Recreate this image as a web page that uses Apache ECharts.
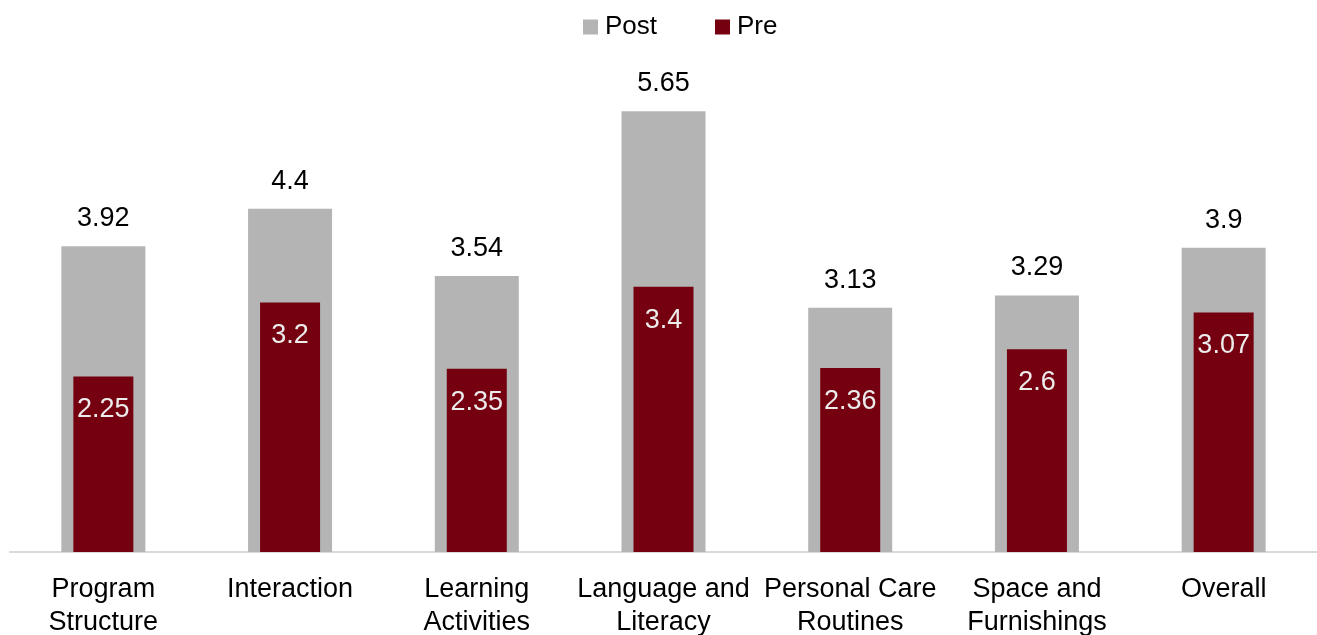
<!DOCTYPE html>
<html>
<head>
<meta charset="utf-8">
<script src="https://cdn.jsdelivr.net/npm/echarts@6/dist/echarts.min.js"></script>
<style>
  html, body { margin: 0; padding: 0; background: #fff; }
  #chart { width: 1317px; height: 635px; }
</style>
</head>
<body>
<div id="chart"></div>
<script>
const categories = ['Program\nStructure', 'Interaction', 'Learning\nActivities', 'Language and\nLiteracy', 'Personal Care\nRoutines', 'Space and\nFurnishings', 'Overall']
const postValues = [3.92, 4.4, 3.54, 5.65, 3.13, 3.29, 3.9]
const preValues = [2.25, 3.2, 2.35, 3.4, 2.36, 2.6, 3.07]

const font = 'Liberation Sans, Arial, sans-serif'
const chart = echarts.init(document.getElementById('chart'))

chart.setOption({
  animation: false,
  legend: {
    top: 9,
    left: 578,
    itemWidth: 15,
    itemHeight: 15,
    itemGap: 58,
    icon: 'rect',
    textStyle: { fontFamily: font, fontSize: 26, color: '#000', padding: [0, 0, 0, 2] },
    data: ['Post', 'Pre']
  },
  grid: { left: 10, right: 0, top: 84, bottom: 83, outerBoundsMode: 'none', containLabel: false },
  xAxis: [
    {
      type: 'category',
      data: categories,
      axisTick: { show: false },
      axisLine: { lineStyle: { color: '#d9d9d9', width: 2 } },
      axisLabel: {
        interval: 0,
        margin: 21,
        fontFamily: font,
        fontSize: 27,
        lineHeight: 33,
        color: '#000'
      }
    },
    {
      type: 'category',
      data: categories,
      show: false
    }
  ],
  yAxis: { type: 'value', min: 0, max: 6, show: false },
  series: [
    {
      name: 'Post',
      type: 'bar',
      xAxisIndex: 0,
      barWidth: 84,
      itemStyle: { color: '#b3b4b3' },
      label: {
        show: true,
        position: 'top',
        distance: 14,
        fontFamily: font,
        fontSize: 27,
        color: '#000'
      },
      data: postValues
    },
    {
      name: 'Pre',
      type: 'bar',
      xAxisIndex: 1,
      barWidth: 60,
      itemStyle: { color: '#75000f' },
      label: {
        show: true,
        position: 'insideTop',
        distance: 20,
        fontFamily: font,
        fontSize: 27,
        color: '#ececec'
      },
      data: preValues
    }
  ]
})
</script>
</body>
</html>
